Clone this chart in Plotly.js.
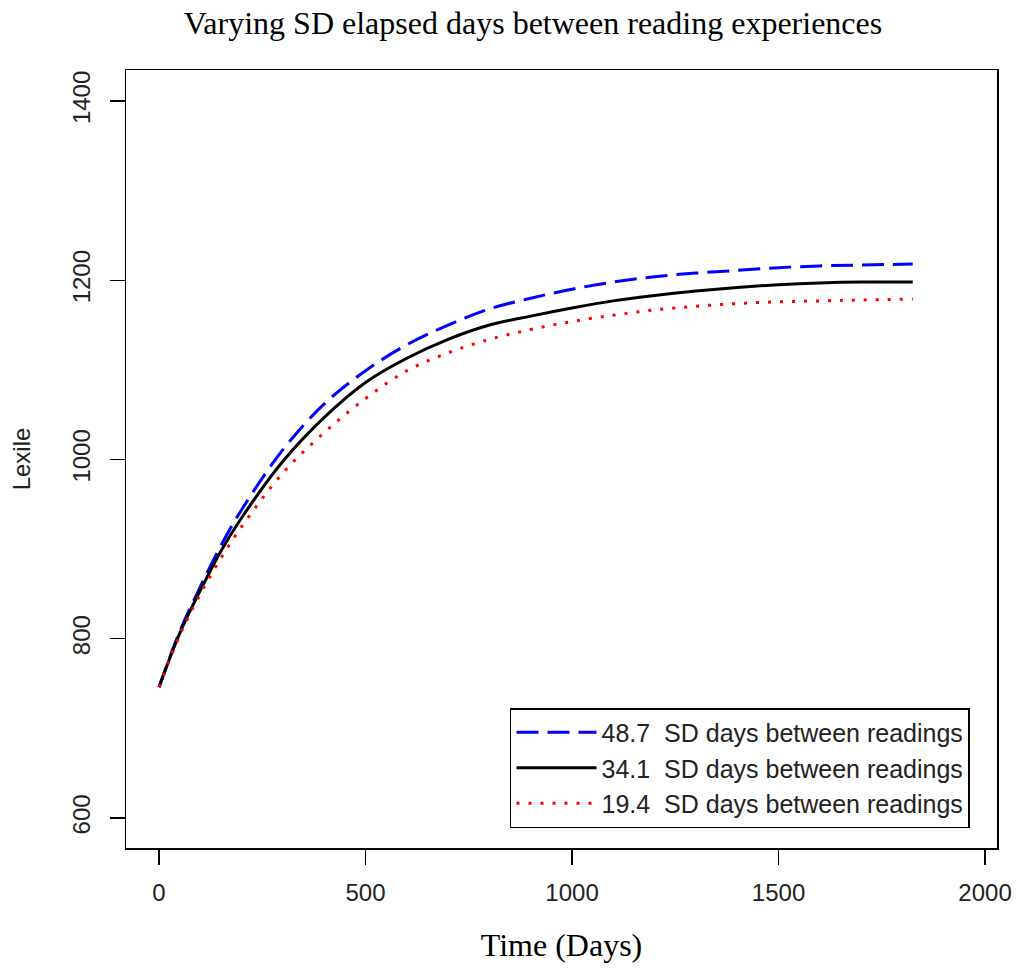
<!DOCTYPE html>
<html>
<head>
<meta charset="utf-8">
<script src="https://cdn.plot.ly/plotly-3.0.1.min.js"></script>
<style>body{margin:0;padding:0;background:#fff;}#chart{width:1016px;height:968px;}</style>
</head>
<body>
<div id="chart"></div>
<script>
const days = [0, 50, 100, 150, 200, 300, 400, 500, 600, 700, 800, 900, 1000, 1100, 1200, 1300, 1400, 1500, 1600, 1700, 1825];
const lexileSD487 = [746, 808, 858, 904, 944, 1011, 1062, 1099, 1128, 1150, 1168, 1180, 1190, 1198, 1204, 1208, 1211, 1214, 1216, 1217, 1218];
const lexileSD341 = [746, 806, 854, 898, 935, 998, 1047, 1086, 1113, 1134, 1150, 1160, 1169, 1177, 1183, 1188, 1192, 1195, 1197, 1198, 1198];
const lexileSD194 = [746, 804, 850, 890, 925, 985, 1030, 1068, 1099, 1119, 1134, 1145, 1154, 1161, 1167, 1171, 1174, 1176, 1177, 1178, 1179];
const seriesNames = ["48.7\u00A0 SD days between readings", "34.1\u00A0 SD days between readings", "19.4\u00A0 SD days between readings"];
const xTicks = [0, 500, 1000, 1500, 2000];
const yTicks = [600, 800, 1000, 1200, 1400];

const traces = [
  {x: days, y: lexileSD487, name: seriesNames[0], mode: "lines", line: {color: "#0000ff", width: 3, dash: "22px,9px", shape: "spline"}},
  {x: days, y: lexileSD341, name: seriesNames[1], mode: "lines", line: {color: "#000000", width: 3, shape: "spline"}},
  {x: days, y: lexileSD194, name: seriesNames[2], mode: "lines", line: {color: "#ff0000", width: 3, dash: "3px,9px", shape: "spline"}}
];

const tickFont = {family: "Liberation Sans, Arial, sans-serif", size: 24, color: "#222"};
const layout = {
  width: 1016, height: 968,
  margin: {l: 126, r: 19, t: 70, b: 120, pad: 0},
  paper_bgcolor: "#fff", plot_bgcolor: "#fff",
  title: {text: "Varying SD elapsed days between reading experiences", font: {family: "Liberation Serif, Times New Roman, serif", size: 32, color: "#000"}, x: 533/1016, xanchor: "center", y: 1 - 23/968, yanchor: "middle"},
  xaxis: {
    range: [-80, 2029], tickvals: xTicks, ticktext: xTicks.map(String),
    showgrid: false, zeroline: false, showline: true, mirror: true, linecolor: "#000", linewidth: 1.5,
    ticks: "outside", ticklen: 15, tickwidth: 1.5, tickcolor: "#000", tickfont: tickFont, ticklabelstandoff: 8,
    title: {text: "Time (Days)", font: {family: "Liberation Serif, Times New Roman, serif", size: 32, color: "#000"}, standoff: 28}
  },
  yaxis: {
    range: [566.5, 1434.6], tickvals: yTicks, ticktext: yTicks.map(String),
    showgrid: false, zeroline: false, showline: true, mirror: true, linecolor: "#000", linewidth: 1.5,
    ticks: "outside", ticklen: 15, tickwidth: 1.5, tickcolor: "#000", tickfont: tickFont, tickangle: -90, ticklabelstandoff: 10,
    title: {text: "Lexile", font: {family: "Liberation Sans, Arial, sans-serif", size: 24, color: "#222"}, standoff: 30}
  },
  showlegend: true,
  legend: {x: 0.969, y: 0.0257, xanchor: "right", yanchor: "bottom", bordercolor: "#000", borderwidth: 1.5, bgcolor: "#fff",
    font: {family: "Liberation Sans, Arial, sans-serif", size: 25, color: "#222"}, tracegroupgap: 0, itemwidth: 80}
};
Plotly.newPlot("chart", traces, layout, {displayModeBar: false, staticPlot: true});
</script>
</body>
</html>
